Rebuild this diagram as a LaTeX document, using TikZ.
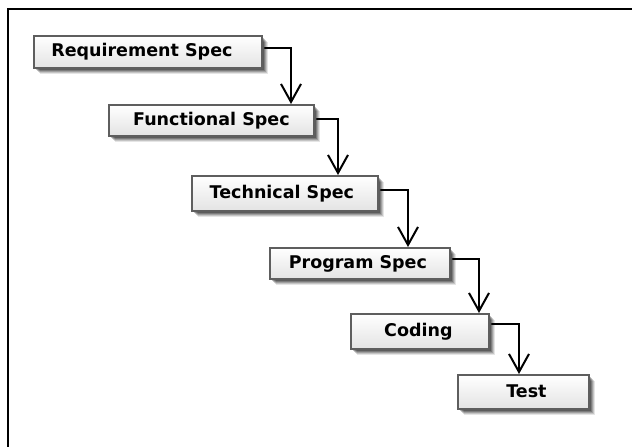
\documentclass[tikz,border=0pt]{standalone}
\usepackage{fontspec}
\setmainfont{DejaVu Sans}
\usetikzlibrary{arrows.meta}
\definecolor{boxedge}{HTML}{5E5E5E}
\definecolor{boxfill}{HTML}{F7F7F7}
\newfontfamily\boxfont{DejaVu Sans}[BoldFont={DejaVu Sans Bold}]
\tikzset{
  softshadow/.style={
    preaction={fill=black,opacity=.10,transform canvas={shift={(6pt,-6pt)}}},
    preaction={fill=black,opacity=.14,transform canvas={shift={(5pt,-5pt)}}},
    preaction={fill=black,opacity=.18,transform canvas={shift={(4pt,-4pt)}}},
    preaction={fill=black,opacity=.22,transform canvas={shift={(3pt,-3pt)}}},
    preaction={fill=black,opacity=.25,transform canvas={shift={(2pt,-2pt)}}},
    preaction={fill=black,opacity=.25,transform canvas={shift={(0pt,-1pt)}}}},
  stepbox/.style={softshadow, draw=boxedge, line width=1.8pt,
    top color=white, bottom color=boxfill!92!black, anchor=north west,
    inner sep=0pt, font=\boxfont\bfseries\fontsize{17.5}{20}\selectfont},
  flow/.style={line width=2pt, line cap=round,
    -{Straight Barb[length=18pt,width=20pt,line width=2pt]}},
  frame/.style={line width=2pt}
}
% label text, raised a little and nudged sideways by the optional offset
\newcommand{\steptext}[2][0pt]{\raisebox{2.5pt}{\hspace*{#1}#2\hspace*{-#1}}}
\begin{document}
\begin{tikzpicture}[x=1pt,y=-1pt]
  \useasboundingbox (0,0) rectangle (632,447);
  \fill[white] (0,0) rectangle (632,447);
  % open frame: top and left edges
  \draw[frame] (8,447) -- (8,9) -- (632,9);

  % the development stages
  \node[stepbox, minimum width=228pt, minimum height=32pt] (req)  at (33,35)  {\steptext[-6pt]{Requirement Spec}};
  \node[stepbox, minimum width=205pt, minimum height=31pt] (func) at (108,104) {\steptext{Functional Spec}};
  \node[stepbox, minimum width=186pt, minimum height=35pt] (tech) at (191,175) {\steptext[-3pt]{Technical Spec}};
  \node[stepbox, minimum width=180pt, minimum height=31pt] (prog) at (269,247) {\steptext[-2pt]{Program Spec}};
  \node[stepbox, minimum width=138pt, minimum height=35pt] (code) at (350,313) {\steptext[-1.5pt]{Coding}};
  \node[stepbox, minimum width=131pt, minimum height=34pt] (test) at (457,374) {\steptext[3pt]{Test}};

  % hand-offs between stages
  \draw[flow] ([xshift=2pt,yshift=4pt]req.east)    -| ([xshift=183pt]func.north west);
  \draw[flow] ([xshift=2pt,yshift=1.5pt]func.east) -| ([xshift=147pt]tech.north west);
  \draw[flow] ([xshift=2pt,yshift=3.5pt]tech.east) -| ([xshift=139pt]prog.north west);
  \draw[flow] ([xshift=2pt,yshift=4.5pt]prog.east) -| ([xshift=129pt]code.north west);
  \draw[flow] ([xshift=2pt,yshift=7.5pt]code.east) -| ([xshift=62pt]test.north west);
\end{tikzpicture}
\end{document}
